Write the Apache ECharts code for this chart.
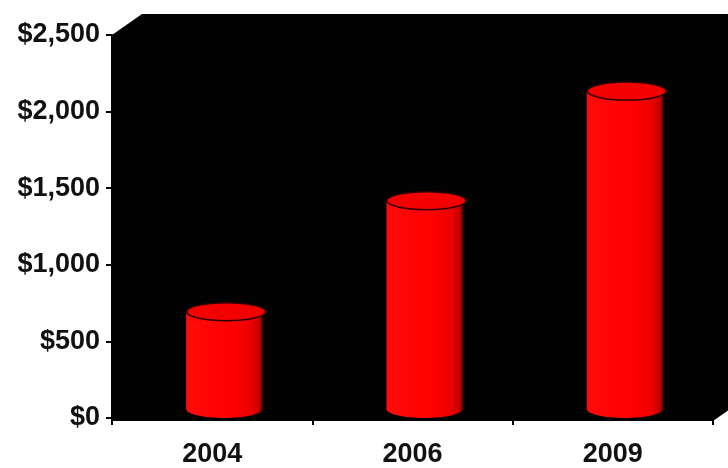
<!DOCTYPE html>
<html>
<head>
<meta charset="utf-8">
<script src="https://cdn.jsdelivr.net/npm/echarts@6/dist/echarts.min.js"></script>
<style>
  html, body { margin: 0; padding: 0; background: #ffffff; }
  #chart { width: 728px; height: 468px; }
</style>
</head>
<body>
<div id="chart"></div>
<script>
// Yearly totals shown as 3D-style cylinders
const years = ['2004', '2006', '2009'];
const amounts = [635, 1360, 2075];
const yTicks = [0, 500, 1000, 1500, 2000, 2500];

// Plot frame (front plane) and the depth offset of the back wall
const GRID = { left: 112, right: 15, top: 35, bottom: 47 };
const W = 728, H = 468;
const DEPTH_X = 30, DEPTH_Y = 21;

const chart = echarts.init(document.getElementById('chart'), null, { renderer: 'canvas' });

const L = GRID.left, R = W - GRID.right, T = GRID.top, B = H - GRID.bottom;

const labelFont = {
  fontFamily: '"Liberation Sans", Arial, Helvetica, sans-serif',
  fontWeight: 'bold',
  fontSize: 27,
  color: '#111111'
};

function renderCylinder(params, api) {
  const idx = api.value(0);
  const v = api.value(1);
  const base = api.coord([idx, 0]);
  const top = api.coord([idx, v]);
  const band = api.size([1, 0])[0];
  const rx = band * 0.19;
  const ry = 9;
  const cx = base[0] + band * 0.06;
  const yb = base[1] - ry;
  const yt = yb - (base[1] - top[1]);
  const bodyFill = new echarts.graphic.LinearGradient(0, 0, 1, 0, [
    { offset: 0, color: '#ff0a0a' },
    { offset: 0.6, color: '#ff0000' },
    { offset: 0.85, color: '#ec0000' },
    { offset: 0.96, color: '#c40000' },
    { offset: 1, color: '#7a0000' }
  ]);
  return {
    type: 'group',
    children: [
      { type: 'ellipse', shape: { cx: cx, cy: yb, rx: rx, ry: ry }, style: { fill: bodyFill } },
      { type: 'rect', shape: { x: cx - rx, y: yt, width: rx * 2, height: yb - yt }, style: { fill: bodyFill } },
      {
        type: 'ellipse',
        shape: { cx: cx + 2, cy: yt, rx: rx + 1.5, ry: ry },
        style: { fill: '#f50000', stroke: '#2a0000', lineWidth: 1.5 }
      }
    ]
  };
}

chart.setOption({
  backgroundColor: '#ffffff',
  animation: false,
  graphic: [{
    type: 'polygon',
    z: -10,
    silent: true,
    shape: {
      points: [
        [L, B], [L, T], [L + DEPTH_X, T - DEPTH_Y],
        [R + DEPTH_X, T - DEPTH_Y], [R + DEPTH_X, B - DEPTH_Y], [R, B]
      ]
    },
    style: { fill: '#020202' }
  }],
  grid: { left: GRID.left, right: GRID.right, top: GRID.top, bottom: GRID.bottom, containLabel: false },
  xAxis: {
    type: 'category',
    data: years,
    boundaryGap: true,
    axisLine: { show: true, lineStyle: { color: '#000000', width: 2 } },
    axisTick: { show: true, length: 7, lineStyle: { color: '#000000', width: 2 } },
    axisLabel: Object.assign({ margin: 23 }, labelFont),
    splitLine: { show: false }
  },
  yAxis: {
    type: 'value',
    min: yTicks[0],
    max: yTicks[yTicks.length - 1],
    interval: yTicks[1] - yTicks[0],
    axisLine: { show: true, lineStyle: { color: '#000000', width: 2 } },
    axisTick: { show: true, length: 6, lineStyle: { color: '#000000', width: 2 } },
    axisLabel: Object.assign({
      margin: 12,
      formatter: function (val) { return '$' + val.toLocaleString('en-US'); }
    }, labelFont),
    splitLine: { show: false }
  },
  series: [{
    type: 'custom',
    renderItem: renderCylinder,
    data: amounts.map(function (a, i) { return [i, a]; }),
    encode: { x: 0, y: 1 },
    clip: false
  }]
});
</script>
</body>
</html>
